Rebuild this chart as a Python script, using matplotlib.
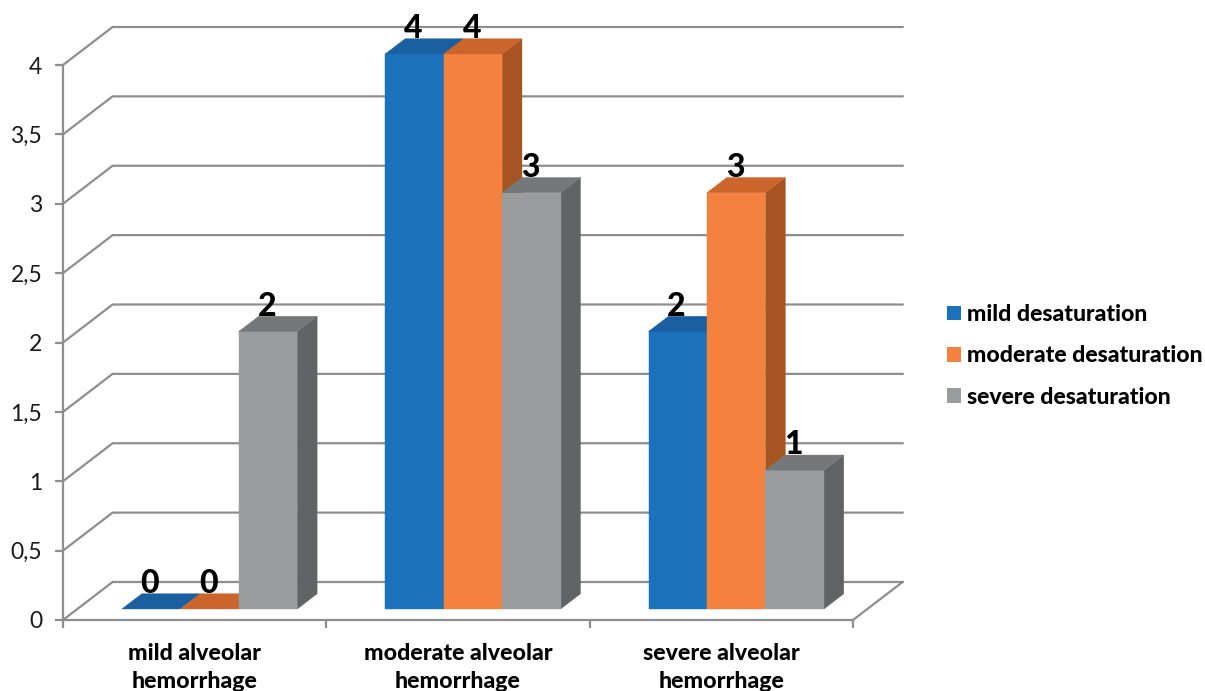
import numpy as np
import matplotlib
matplotlib.use("Agg")
import matplotlib.pyplot as plt
from matplotlib.patches import Polygon, Patch

plt.rcParams['font.family'] = ['Lato', 'DejaVu Sans']

# ── Data ──────────────────────────────────────────────────────────────────────
categories = ["mild alveolar\nhemorrhage", "moderate alveolar\nhemorrhage", "severe alveolar\nhemorrhage"]
mild = [0, 4, 2]
moderate = [0, 4, 3]
severe = [2, 3, 1]
series_names = ["mild desaturation", "moderate desaturation", "severe desaturation"]
y_ticks = [0, 0.5, 1, 1.5, 2, 2.5, 3, 3.5, 4]
y_labels = ["0", "0,5", "1", "1,5", "2", "2,5", "3", "3,5", "4"]

front_colors = ["#1d73bb", "#f5813f", "#999c9c"]
top_colors = ["#1a5fa0", "#cb652b", "#757879"]
side_colors = ["#164f86", "#a65522", "#616464"]
grid_color = "#8e8e8e"

# ── Oblique projection, depth 0 = front plane, depth 1 = back wall ────────────
W, H = 1205, 691
LEFT, RIGHT, BOTTOM, TOP = 63, 853, 620, 65
DX = 49.6 / ((RIGHT - LEFT) / 3)
DY = 38 / ((BOTTOM - TOP) / 4)

def proj(x, d, y):
    return (x + d * DX, y + d * DY)

fig = plt.figure(figsize=(W / 100, H / 100), dpi=100)
ax = fig.add_axes([LEFT / W, 1 - BOTTOM / H, (RIGHT - LEFT) / W, (BOTTOM - TOP) / H])
ax.set_xlim(0, 3)
ax.set_ylim(0, 4)
ax.patch.set_visible(False)

# ── Walls and floor ───────────────────────────────────────────────────────────
for v in y_ticks:
    pts = [proj(0, 0, v), proj(0, 1, v), proj(3, 1, v)]
    ax.plot(*zip(*pts), color=grid_color, lw=1.6, clip_on=False, zorder=1,
            solid_joinstyle='miter')
ax.plot(*zip(proj(3, 0, 0), proj(3, 1, 0)), color=grid_color, lw=1.6, clip_on=False, zorder=1)

# ── Bars ──────────────────────────────────────────────────────────────────────
bar_w = 0.222
d0, d1 = 0.29, 0.69
z = 2
for c in range(len(categories)):
    for s, values in enumerate([mild, moderate, severe]):
        v = values[c]
        x0 = c + 0.502 - 1.5 * bar_w + s * bar_w
        x1 = x0 + bar_w
        if v > 0:
            side = [proj(x1, d0, 0), proj(x1, d1, 0), proj(x1, d1, v), proj(x1, d0, v)]
            ax.add_patch(Polygon(side, fc=side_colors[s], ec=side_colors[s], lw=0.3, clip_on=False, zorder=z))
            front = [proj(x0, d0, 0), proj(x1, d0, 0), proj(x1, d0, v), proj(x0, d0, v)]
            ax.add_patch(Polygon(front, fc=front_colors[s], ec=front_colors[s], lw=0.3, clip_on=False, zorder=z))
        top = [proj(x0, d0, v), proj(x1, d0, v), proj(x1, d1, v), proj(x0, d1, v)]
        ax.add_patch(Polygon(top, fc=top_colors[s], ec=top_colors[s], lw=0.3, clip_on=False, zorder=z))
        z += 1
        lx, ly = proj((x0 + x1) / 2, d0, v)
        ax.annotate(str(v), (lx, ly), xytext=(-0.8, 7.8), textcoords='offset points',
                    ha='center', va='bottom', fontsize=23, fontweight=900,
                    color='black', zorder=50, annotation_clip=False)

# ── Axes ──────────────────────────────────────────────────────────────────────
for name in ['top', 'right']:
    ax.spines[name].set_visible(False)
for name in ['left', 'bottom']:
    ax.spines[name].set_color(grid_color)
    ax.spines[name].set_linewidth(1.6)
ax.set_yticks(y_ticks)
ax.set_yticklabels(y_labels, fontsize=16.5, color='#1a1a1a')
ax.tick_params(axis='y', length=6, width=1.6, color=grid_color, pad=9)
ax.set_xticks([0, 1, 2, 3])
ax.set_xticklabels([])
ax.set_xticks([0.5, 1.5, 2.5], minor=True)
ax.set_xticklabels(categories, minor=True, fontsize=16.7, fontweight=900, linespacing=1.42)
ax.tick_params(axis='x', which='major', length=6, width=1.6, color=grid_color)
ax.tick_params(axis='x', which='minor', length=0, pad=16.5)

handles = [Patch(fc=c, ec='none') for c in front_colors]
fig.legend(handles, series_names, loc='center left', bbox_to_anchor=(947 / W, 1 - 356 / H),
           frameon=False, prop={'size': 16.6, 'weight': 900}, handlelength=0.6,
           handleheight=0.6, handletextpad=0.28, labelspacing=0.88, borderpad=0, borderaxespad=0)

fig.savefig("out.png", dpi=100)
